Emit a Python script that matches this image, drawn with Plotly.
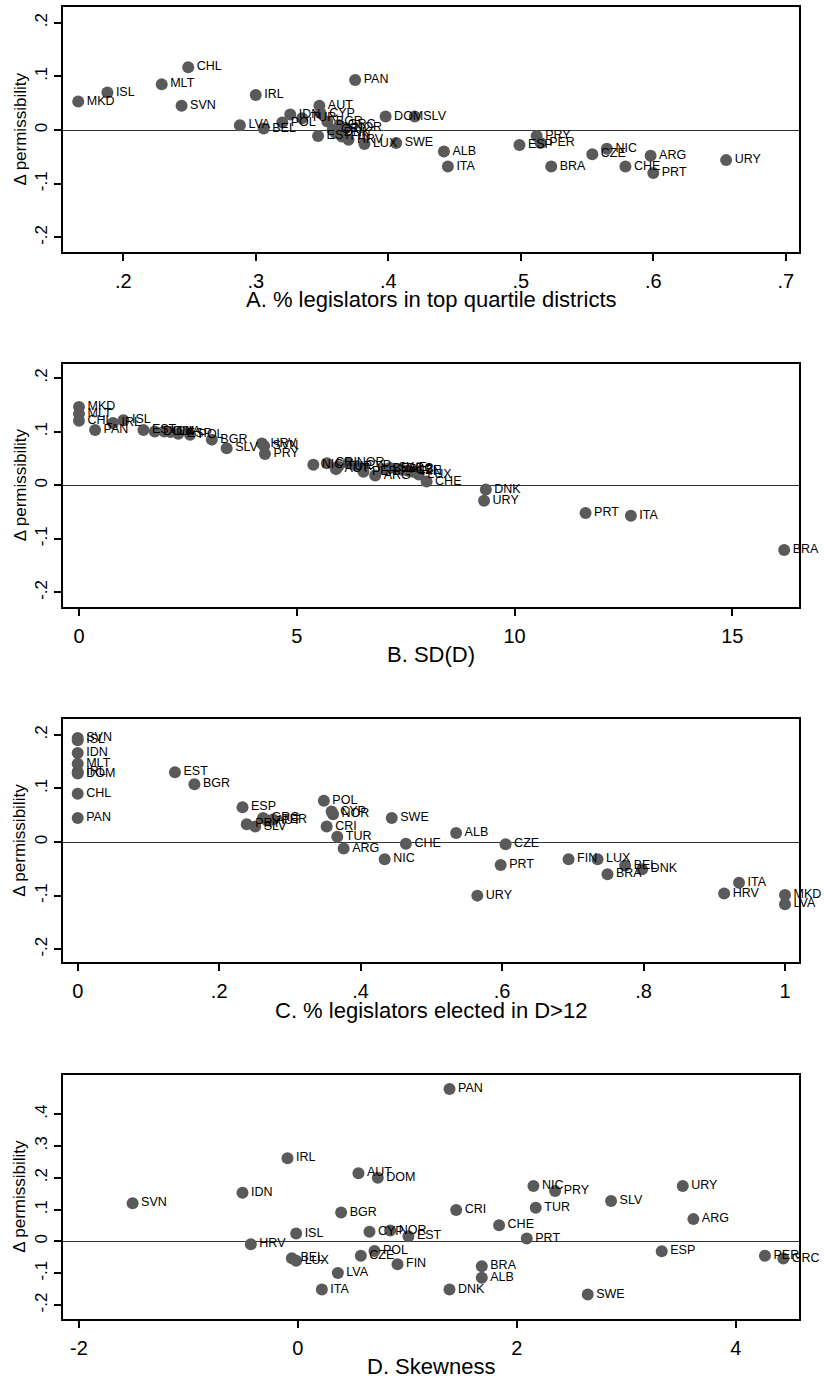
import plotly.graph_objects as go

# ---------------- Panel A ----------------
a_countries = ["MKD","ISL","MLT","CHL","SVN","IRL","PAN","LVA","BEL","POL","IDN","TUR","AUT","CYP","EST",
               "BGR","CRI","GRC","DNK","NOR","FIN","HRV","LUX","DOM","SLV","SWE","ALB","ITA","ESP","PRY",
               "PER","BRA","CZE","NIC","CHE","ARG","PRT","URY"]
a_x = [0.166,0.188,0.229,0.249,0.244,0.300,0.375,0.288,0.306,0.320,0.326,0.335,0.348,0.349,0.347,
       0.354,0.358,0.363,0.360,0.368,0.365,0.370,0.382,0.398,0.420,0.406,0.442,0.445,0.499,0.512,
       0.515,0.523,0.554,0.565,0.579,0.598,0.600,0.655]
a_y = [0.053,0.070,0.085,0.117,0.045,0.065,0.093,0.009,0.003,0.014,0.029,0.022,0.045,0.031,-0.011,
       0.016,0.000,0.009,-0.005,0.004,-0.012,-0.018,-0.026,0.025,0.025,-0.024,-0.040,-0.068,-0.028,-0.011,
       -0.024,-0.068,-0.045,-0.035,-0.068,-0.048,-0.080,-0.056]

# ---------------- Panel B ----------------
b_countries = ["MKD","MLT","CHL","PAN","IRL","ISL","EST","DOM","IDN","LVA","ESP","POL","BGR","SLV","HRV",
               "SVN","PRY","NIC","CRI","AUT","TUR","NOR","CYP","PER","ARG","BEL","SWE","GRC","ALB","CZE",
               "FIN","LUX","CHE","DNK","URY","PRT","ITA","BRA"]
b_x = [0.0,0.0,0.0,0.37,0.78,1.02,1.48,1.74,1.96,2.10,2.28,2.55,3.05,3.39,4.20,
       4.25,4.27,5.38,5.69,5.90,5.95,6.18,6.38,6.53,6.80,7.00,7.14,7.30,7.41,7.55,
       7.67,7.80,7.98,9.34,9.30,11.63,12.67,16.19]
b_y = [0.146,0.133,0.120,0.103,0.116,0.121,0.103,0.100,0.100,0.099,0.096,0.094,0.085,0.069,0.078,
       0.073,0.058,0.038,0.041,0.030,0.035,0.041,0.036,0.025,0.018,0.030,0.032,0.030,0.029,0.027,
       0.025,0.020,0.007,-0.008,-0.029,-0.052,-0.057,-0.121]

# ---------------- Panel C ----------------
c_countries = ["SVN","ISL","IDN","MLT","IRL","DOM","CHL","PAN","EST","BGR","ESP","PRY","SLV","GRC","AUT",
               "PER","POL","CYP","NOR","CRI","TUR","ARG","NIC","SWE","CHE","ALB","CZE","PRT","URY","FIN",
               "LUX","BEL","DNK","BRA","ITA","HRV","MKD","LVA"]
c_x = [0.0,0.0,0.0,0.0,0.0,0.0,0.0,0.0,0.1375,0.165,0.233,0.239,0.251,0.262,0.268,
       0.276,0.348,0.359,0.361,0.352,0.367,0.376,0.434,0.444,0.464,0.535,0.605,0.598,0.565,0.694,
       0.735,0.774,0.798,0.749,0.935,0.914,1.0,1.0]
c_y = [0.194,0.190,0.166,0.146,0.131,0.128,0.090,0.045,0.130,0.108,0.065,0.033,0.029,0.045,0.040,
       0.042,0.077,0.057,0.052,0.029,0.010,-0.012,-0.032,0.045,-0.003,0.017,-0.004,-0.043,-0.100,-0.032,
       -0.032,-0.044,-0.051,-0.060,-0.076,-0.096,-0.099,-0.116]

# ---------------- Panel D ----------------
d_countries = ["IRL","AUT","DOM","IDN","SVN","BGR","ISL","CYP","NOR","EST","HRV","BEL","LUX","CZE","POL",
               "FIN","LVA","ITA","PAN","NIC","PRY","URY","SLV","CRI","TUR","ARG","CHE","PRT","ESP","PER",
               "GRC","BRA","ALB","DNK","SWE"]
d_x = [-0.095,0.553,0.730,-0.506,-1.510,0.395,-0.016,0.654,0.843,1.010,-0.430,-0.055,-0.016,0.575,0.700,
       0.910,0.365,0.219,1.385,2.152,2.350,3.516,2.861,1.446,2.173,3.613,1.838,2.091,3.324,4.267,
       4.435,1.680,1.680,1.385,2.648]
d_y = [0.261,0.214,0.200,0.153,0.120,0.091,0.025,0.030,0.034,0.016,-0.009,-0.053,-0.061,-0.045,-0.030,
       -0.072,-0.099,-0.151,0.479,0.174,0.158,0.174,0.127,0.099,0.106,0.070,0.051,0.009,-0.031,-0.045,
       -0.054,-0.078,-0.114,-0.151,-0.167]

# ---------------- ticks / titles ----------------
a_xticks = [0.2,0.3,0.4,0.5,0.6,0.7]
a_xticktext = [".2",".3",".4",".5",".6",".7"]
b_xticks = [0,5,10,15]
b_xticktext = ["0","5","10","15"]
c_xticks = [0,0.2,0.4,0.6,0.8,1.0]
c_xticktext = ["0",".2",".4",".6",".8","1"]
d_xticks = [-2,0,2,4]
d_xticktext = ["-2","0","2","4"]
abc_yticks = [-0.2,-0.1,0,0.1,0.2]
abc_yticktext = ["-.2","-.1","0",".1",".2"]
d_yticks = [-0.2,-0.1,0,0.1,0.2,0.3,0.4]
d_yticktext = ["-.2","-.1","0",".1",".2",".3",".4"]

x_titles = ["A. % legislators in top quartile districts", "B. SD(D)",
            "C. % legislators elected in D>12", "D. Skewness"]
y_title = "Δ permissibility"

W, H = 824, 1381
FONT = "Liberation Sans, Arial, Helvetica, sans-serif"
MARK = "#5a5a5a"

panels = [
    (a_countries, a_x, a_y, [0.1545, 0.710], [-0.227, 0.229], a_xticks, a_xticktext, abc_yticks, abc_yticktext, (7, 252)),
    (b_countries, b_x, b_y, [-0.367, 16.53], [-0.2265, 0.226], b_xticks, b_xticktext, abc_yticks, abc_yticktext, (364, 606.7)),
    (c_countries, c_x, c_y, [-0.0208, 1.0198], [-0.2244, 0.229], c_xticks, c_xticktext, abc_yticks, abc_yticktext, (719.3, 962.3)),
    (d_countries, d_x, d_y, [-2.146, 4.578], [-0.243, 0.523], d_xticks, d_xticktext, d_yticks, d_yticktext, (1075, 1318.7)),
]

fig = go.Figure()
layout = dict(
    width=W, height=H, margin=dict(l=0, r=0, t=0, b=0),
    paper_bgcolor="white", plot_bgcolor="white", showlegend=False,
    font=dict(family=FONT, color="black"),
)
annotations = []
x_dom = [63 / W, 799 / W]

for i, (cn, xs, ys, xr, yr, xt, xtt, yt, ytt, (top, bot)) in enumerate(panels):
    n = "" if i == 0 else str(i + 1)
    fig.add_trace(go.Scatter(
        x=xs, y=ys, text=cn, mode="markers+text", textposition="middle right",
        marker=dict(color=MARK, size=12, line=dict(width=0)),
        textfont=dict(size=12.5, color="black", family=FONT),
        cliponaxis=False, xaxis="x" + n, yaxis="y" + n, hoverinfo="skip",
    ))
    layout["xaxis" + n] = dict(
        domain=x_dom, range=xr, anchor="y" + n, showgrid=False, zeroline=False,
        showline=True, mirror=True, linecolor="black", linewidth=2,
        ticks="outside", ticklen=7, tickwidth=1.5, tickcolor="black",
        tickvals=xt, ticktext=xtt, tickfont=dict(size=20, family=FONT),
        ticklabelstandoff=3,
    )
    layout["yaxis" + n] = dict(
        domain=[1 - bot / H, 1 - top / H], range=yr, anchor="x" + n, showgrid=False,
        zeroline=True, zerolinecolor="#333333", zerolinewidth=1.3,
        showline=True, mirror=True, linecolor="black", linewidth=2,
        ticks="outside", ticklen=7, tickwidth=1.5, tickcolor="black",
        tickvals=yt, ticktext=ytt, tickangle=-90, tickfont=dict(size=17, family=FONT),
    )
    annotations.append(dict(
        text=x_titles[i], x=431 / W, y=1 - (bot + 48) / H, xref="paper", yref="paper",
        xanchor="center", yanchor="middle", showarrow=False, font=dict(size=22, family=FONT),
    ))
    annotations.append(dict(
        text=y_title, x=20 / W, y=1 - ((top + bot) / 2) / H, xref="paper", yref="paper",
        xanchor="center", yanchor="middle", textangle=-90, showarrow=False,
        font=dict(size=17, family=FONT),
    ))

layout["annotations"] = annotations
fig.update_layout(**layout)
fig.write_html("out.html")
